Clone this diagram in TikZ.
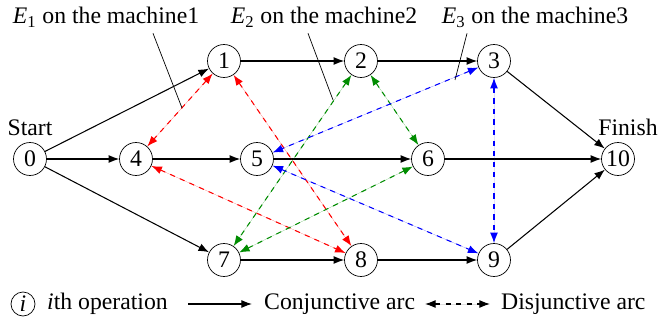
\documentclass[tikz,border=0pt]{standalone}
\usepackage{fontspec}
\setmainfont{Liberation Serif}
\usetikzlibrary{arrows.meta,positioning}

\begin{document}
\begin{tikzpicture}[x=0.02cm,y=-0.02cm,
	every node/.style={font=\fontsize{13.5}{16}\selectfont},
	op/.style={draw,circle,minimum size=0.66cm,inner sep=0pt},
	conj/.style={-{Latex[length=6pt,width=4.5pt]},line width=0.6pt},
	disj/.style={{Latex[length=6pt,width=4.5pt]}-{Latex[length=6pt,width=4.5pt]},dashed,line width=0.6pt}]
	\useasboundingbox (0,0) rectangle (664,321);
	% operations
	\foreach\n\x\y in {0/30/159, 4/136/159, 5/257/159, 6/428/159, 10/618/159,
		1/224/61, 2/361/61, 3/494/61, 7/224/260, 8/361/260, 9/494/260}
	{\node[op] (n\n) at (\x,\y) {\n};}
	\node[above=0pt of n0] (start) {Start};
	\node[above=0pt of n10,xshift=0.2cm] (finish) {Finish};
	% conjunctive arcs
	\foreach\a\b in {0/1, 0/4, 0/7, 1/2, 2/3, 3/10, 4/5, 5/6, 6/10, 7/8, 8/9, 9/10}
	{\draw[conj] (n\a) -- (n\b);}
	% disjunctive arcs
	\foreach\a\b\c in {1/4/red, 1/8/red, 4/8/red, 2/6/green!55!black, 2/7/green!55!black,
		6/7/green!55!black, 3/5/blue, 3/9/blue, 5/9/blue}
	{\draw[disj,draw=\c,fill=\c] (n\a) -- (n\b);}
	% machines
	\node (e1) at (106,17) {\textit{E}\textsubscript{1} on the machine1};
	\node (e2) at (324,17) {\textit{E}\textsubscript{2} on the machine2};
	\node (e3) at (535,17) {\textit{E}\textsubscript{3} on the machine3};
	\coordinate (p1) at (182,108);
	\coordinate (p2) at (333,100);
	\coordinate (p3) at (455,80);
	\draw (e1.south-|153,0) -- (p1);
	\draw (e2.south-|308,0) -- (p2);
	\draw (e3.south-|467,0) -- (p3);
	% legend
	\node[op,minimum size=0.48cm] (li) at (23,304) {\textit{i}};
	\node[anchor=west] (lop) at (41,304) {\textit{i}th operation};
	\coordinate (c1) at (188,304);
	\coordinate (c2) at (252,304);
	\draw[conj] (c1) -- (c2);
	\node[anchor=west] (lconj) at (258,304) {Conjunctive arc};
	\coordinate (d1) at (425,304);
	\coordinate (d2) at (490,304);
	\draw[disj,fill=black] (d1) -- (d2);
	\node[anchor=west] (ldisj) at (495,304) {Disjunctive arc};
\end{tikzpicture}
\end{document}
